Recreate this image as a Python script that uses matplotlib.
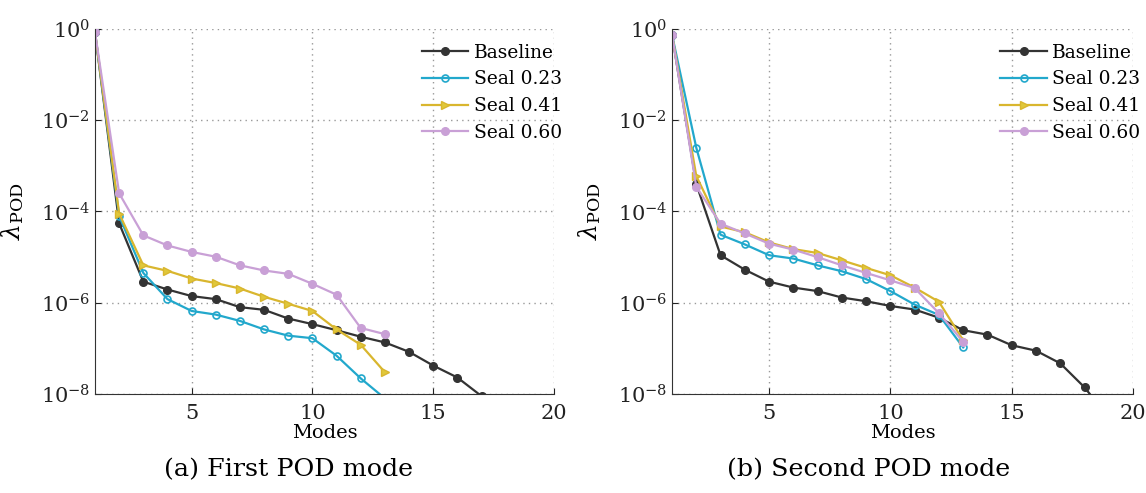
import matplotlib
matplotlib.use('agg')
import matplotlib.pyplot as plt
import numpy as np

plt.rcParams['font.family'] = 'DejaVu Serif'
plt.rcParams['mathtext.fontset'] = 'dejavuserif'

# ---------------------------------------------------------------- data
modes_a = np.arange(1, 18)
base_a = [0.85, 5.5e-5, 2.9e-6, 1.95e-6, 1.4e-6, 1.2e-6, 8e-7, 7e-7, 4.5e-7,
          3.4e-7, 2.5e-7, 1.8e-7, 1.35e-7, 8.4e-8, 4.2e-8, 2.3e-8, 9e-9]
modes_sa = np.arange(1, 14)
s023_a = [0.85, 8e-5, 4.5e-6, 1.2e-6, 6.6e-7, 5.5e-7, 4e-7, 2.6e-7, 1.9e-7,
          1.67e-7, 6.9e-8, 2.2e-8, 8e-9]
s041_a = [0.85, 9e-5, 6.6e-6, 5e-6, 3.4e-6, 2.7e-6, 2.05e-6, 1.35e-6, 9.5e-7,
          6.6e-7, 2.6e-7, 1.2e-7, 3e-8]
s060_a = [0.85, 2.5e-4, 3e-5, 1.8e-5, 1.3e-5, 1.02e-5, 6.6e-6, 5.1e-6, 4.3e-6,
          2.6e-6, 1.5e-6, 2.8e-7, 2.05e-7]

modes_b = np.arange(1, 20)
base_b = [0.75, 4e-4, 1.1e-5, 5.3e-6, 2.9e-6, 2.15e-6, 1.8e-6, 1.3e-6, 1.08e-6,
          8.5e-7, 7.1e-7, 4.7e-7, 2.5e-7, 2e-7, 1.17e-7, 8.9e-8, 4.7e-8, 1.4e-8, 3e-9]
modes_sb = np.arange(1, 14)
s023_b = [0.75, 2.5e-3, 3.1e-5, 1.9e-5, 1.1e-5, 9.3e-6, 6.6e-6, 4.9e-6, 3.3e-6,
          1.8e-6, 9.1e-7, 5.4e-7, 1.05e-7]
s041_b = [0.75, 6e-4, 4.7e-5, 3.5e-5, 2.1e-5, 1.5e-5, 1.23e-5, 8.5e-6, 5.8e-6,
          4e-6, 2.15e-6, 1.05e-6, 1.5e-7]
s060_b = [0.75, 3.5e-4, 5.4e-5, 3.3e-5, 1.97e-5, 1.46e-5, 1e-5, 6.6e-6, 4.5e-6,
          3.1e-6, 2.1e-6, 5.9e-7, 1.4e-7]

labels = ['Baseline', 'Seal 0.23', 'Seal 0.41', 'Seal 0.60']
captions = ['(a) First POD mode', '(b) Second POD mode']

# ---------------------------------------------------------------- styles
styles = [dict(color='#333333', marker='o', ms=5.5, mfc='#333333'),
          dict(color='#22a8cc', marker='o', ms=5, mfc='none', mew=1.2),
          dict(color='#d9b62e', marker='>', ms=5.5, mfc='#e0c83a'),
          dict(color='#c9a0d6', marker='o', ms=5.5, mfc='#c9a0d6')]


def podplot(fig, rect, modes_base, base, modes_seal, seals, caption, cx):
    ax = fig.add_axes(rect)
    series = [(modes_base, base)] + [(modes_seal, s) for s in seals]
    for (x, y), lab, st in zip(series, labels, styles):
        ax.plot(x, y, lw=1.6, label=lab, **st)
    ax.set_yscale('log')
    ax.set_xlim(1, 20)
    ax.set_ylim(1e-8, 1)
    ax.set_xticks([5, 10, 15, 20])
    ax.set_yticks([1e0, 1e-2, 1e-4, 1e-6, 1e-8])
    ax.minorticks_off()
    ax.tick_params(direction='in', length=4, labelsize=15, colors='#222222')
    ax.tick_params(axis='x', pad=7)
    ax.grid(True, linestyle=(0, (1, 3)), color='#999999', linewidth=1.0)
    for s in ['top', 'right']:
        ax.spines[s].set_visible(False)
    for s in ['left', 'bottom']:
        ax.spines[s].set_color('#333333')
    ax.set_xlabel('Modes', fontsize=14)
    ax.xaxis.set_label_coords(0.5, -0.082)
    ax.set_ylabel(r'$\lambda_{\mathrm{POD}}$', fontsize=18)
    ax.yaxis.set_label_coords(-0.15, 0.5)
    ax.legend(loc='upper left', bbox_to_anchor=(0.712, 0.96), frameon=False,
              fontsize=13.4, handlelength=2.5, handletextpad=0.3,
              labelspacing=0.47, borderpad=0, borderaxespad=0)
    fig.text(cx, 0.047, caption, ha='center', va='center', fontsize=18.3)
    return ax


fig = plt.figure(figsize=(11.46, 4.93), dpi=100)
podplot(fig, [0.0829, 0.2008, 0.4005, 0.7404], modes_a, base_a, modes_sa,
        [s023_a, s041_a, s060_a], captions[0], 289 / 1146)
podplot(fig, [0.5864, 0.2008, 0.4023, 0.7404], modes_b, base_b, modes_sb,
        [s023_b, s041_b, s060_b], captions[1], 869 / 1146)

plt.savefig('out.png', dpi=100)
